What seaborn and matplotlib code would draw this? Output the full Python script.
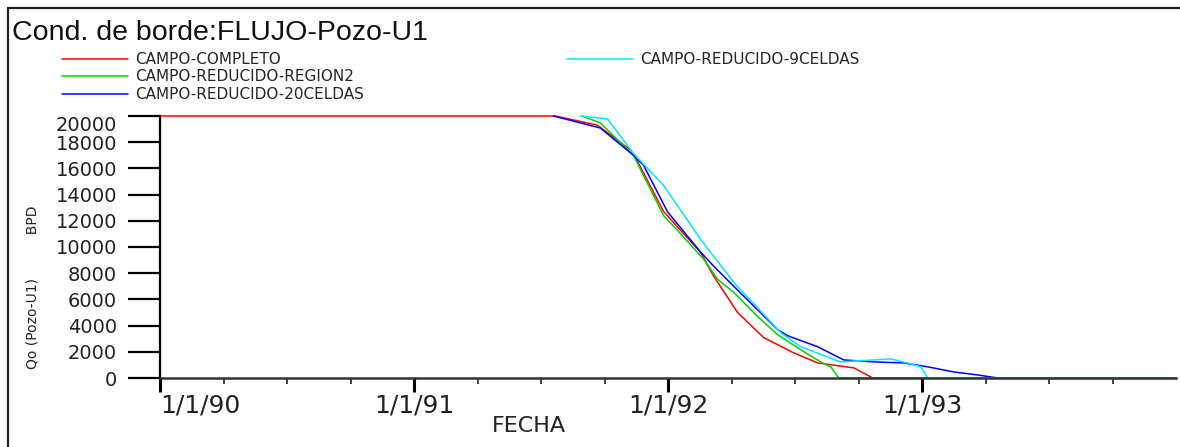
import numpy as np
import pandas as pd
import matplotlib
matplotlib.use("Agg")
import matplotlib.pyplot as plt
from matplotlib.lines import Line2D
from matplotlib.ticker import FixedLocator
import seaborn as sns

# ---------------- data ----------------
labels = ["CAMPO-COMPLETO", "CAMPO-REDUCIDO-REGION2",
          "CAMPO-REDUCIDO-20CELDAS", "CAMPO-REDUCIDO-9CELDAS"]
colors = ["#ff0000", "#00d400", "#0000ff", "#00e8ff"]

red_t = [1990.0, 1991.557, 1991.722, 1991.853, 1991.880, 1991.983, 1992.128,
         1992.180, 1992.274, 1992.377, 1992.495, 1992.590, 1992.732, 1992.806, 1994.0]
red_q = [20000, 20000, 19300, 17400, 16540, 12700, 9600,
         7770, 5000, 3080, 1920, 1150, 770, 0, 0]

grn_t = [1991.663, 1991.734, 1991.864, 1991.983, 1992.022, 1992.140, 1992.195,
         1992.259, 1992.353, 1992.432, 1992.523, 1992.601, 1992.641, 1992.672, 1994.0]
grn_q = [20000, 19460, 17000, 12380, 11600, 9080, 7540,
         6540, 4690, 3300, 2150, 1230, 850, 0, 0]

blu_t = [1991.549, 1991.734, 1991.864, 1991.904, 1991.998, 1992.128, 1992.180,
         1992.259, 1992.432, 1992.471, 1992.590, 1992.692, 1992.810, 1992.929,
         1993.023, 1993.126, 1993.220, 1993.299, 1994.0]
blu_q = [20000, 19080, 17000, 16230, 12690, 9620, 8540,
         7000, 3690, 3230, 2380, 1380, 1230, 1150,
         850, 460, 230, 0, 0]

cya_t = [1991.655, 1991.762, 1991.864, 1991.983, 1992.128, 1992.259, 1992.444,
         1992.523, 1992.680, 1992.810, 1992.877, 1992.956, 1992.996, 1993.023, 1994.0]
cya_q = [20000, 19770, 17150, 14690, 10600, 7300, 3460,
         2380, 1230, 1380, 1460, 1080, 850, 0, 0]

x_ticks = [1990, 1991, 1992, 1993]
x_ticklabels = ["1/1/90", "1/1/91", "1/1/92", "1/1/93"]
y_ticks = [0, 2000, 4000, 6000, 8000, 10000, 12000, 14000, 16000, 18000, 20000]

title = "Cond. de borde:FLUJO-Pozo-U1"
xlabel = "FECHA"
ylabel = "Qo (Pozo-U1)          BPD"

# ---------------- figure ----------------
sns.set_style("white")
plt.rcParams["font.family"] = ["DejaVu Sans"]

W, H = 1180, 447
fig = plt.figure(figsize=(W / 100, H / 100), dpi=100)
fig.patch.set_facecolor("white")
ax = fig.add_axes([160 / W, (H - 378) / H, (1176 - 160) / W, (378 - 116) / H])
ax.set_facecolor("white")

series = [(red_t, red_q), (grn_t, grn_q), (blu_t, blu_q), (cya_t, cya_q)]
for (t, q), c in zip(series, colors):
    sns.lineplot(x=t, y=q, ax=ax, color=c, linewidth=1.1,
                 estimator=None, sort=False, legend=False)
for ln in ax.lines:
    ln.set_clip_on(False)

ax.set_xlim(1990, 1994)
ax.set_ylim(0, 20000)
ax.set_xticks(x_ticks)
ax.set_xticklabels(x_ticklabels)
ax.xaxis.set_minor_locator(FixedLocator(list(np.arange(1990.25, 1993.9, 0.25))))
ax.set_yticks(y_ticks)
ax.set_yticklabels([str(v) for v in y_ticks])

ax.tick_params(axis="x", which="major", direction="out", length=10, width=2.2,
               color="black", pad=1, labelsize=18, labelcolor="#222222", bottom=True)
ax.tick_params(axis="x", which="minor", direction="out", length=4.3, width=1.2,
               color="#222222", bottom=True)
ax.tick_params(axis="y", which="major", direction="out", length=23, width=1.6,
               color="black", pad=8, labelsize=14, labelcolor="#222222", left=True)

for s in ["top", "right"]:
    ax.spines[s].set_visible(False)
ax.spines["left"].set_linewidth(1.6)
ax.spines["left"].set_color("black")
ax.spines["bottom"].set_linewidth(1.8)
ax.spines["bottom"].set_color("#333333")
ax.spines["left"].set_zorder(3)
ax.spines["bottom"].set_zorder(3)

ax.set_xlabel(xlabel, fontsize=16, color="#222222")
ax.xaxis.set_label_coords((529 - 160) / 1016, (378 - 416) / 262)
ax.set_ylabel(ylabel, fontsize=10, color="#222222")
ax.yaxis.set_label_coords((40 - 160) / 1016, (378 - 287) / 262)

# title
fig.text(12 / W, 1 - 40 / H, title, fontsize=20.5, family=["Liberation Sans", "DejaVu Sans"],
         va="baseline", ha="left", color="#111111")

# legends
handles = [Line2D([], [], color=c, linewidth=1.1) for c in colors]
common = dict(loc="upper left", frameon=False, borderpad=0, borderaxespad=0,
              handlelength=4.32, handletextpad=0.46, labelspacing=0.16, fontsize=11,
              bbox_transform=fig.transFigure)
fig.legend(handles[:3], labels[:3], bbox_to_anchor=(62 / W, 1 - 52 / H), **common)
fig.legend(handles[3:], labels[3:], bbox_to_anchor=(567 / W, 1 - 52 / H), **common)

# outer frame (top and left edges)
fig.add_artist(Line2D([8 / W, 8 / W], [0, 1 - 8 / H], transform=fig.transFigure,
                      color="#222222", linewidth=1.6))
fig.add_artist(Line2D([8 / W, 1], [1 - 8 / H, 1 - 8 / H], transform=fig.transFigure,
                      color="#222222", linewidth=1.6))

# label alignment tweaks
xl = ax.get_xticklabels()
xl[0].set_horizontalalignment("left")
yl = ax.get_yticklabels()
yl[-1].set_verticalalignment("top")

fig.savefig("out.png", dpi=100, facecolor="white")
